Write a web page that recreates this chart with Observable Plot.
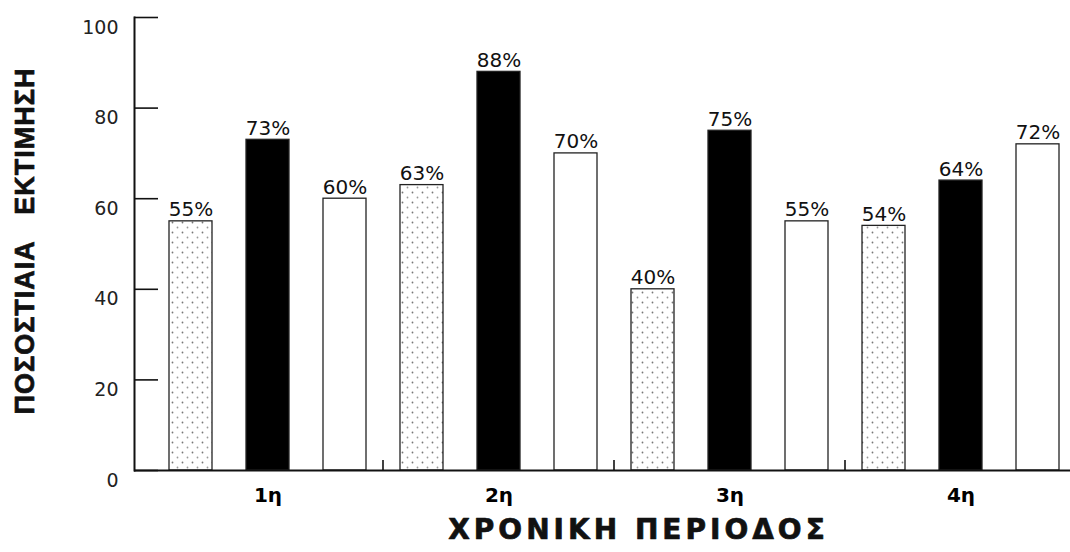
<!DOCTYPE html>
<html>
<head>
<meta charset="utf-8">
<script src="https://cdn.jsdelivr.net/npm/d3@7"></script>
<script src="https://cdn.jsdelivr.net/npm/@observablehq/plot@0.6"></script>
<style>
  html, body { margin: 0; padding: 0; background: #fff; }
  svg { font-family: "DejaVu Sans", sans-serif; }
</style>
</head>
<body>
<div id="chart"></div>
<script>
// ---- data ----
const periods = ["1η", "2η", "3η", "4η"];
const seriesNames = ["Σειρά 1", "Σειρά 2", "Σειρά 3"];
const series1 = [55, 63, 40, 54];   // dotted bars
const series2 = [73, 88, 75, 64];   // black bars
const series3 = [60, 70, 55, 72];   // white bars
const yTicks = [0, 20, 40, 60, 80, 100];
const xTitle = "ΧΡΟΝΙΚΗ ΠΕΡΙΟΔΟΣ";
const yTitle = "ΠΟΣΟΣΤΙΑΙΑ\u00A0\u00A0\u00A0ΕΚΤΙΜΗΣΗ";

// ---- table built from the arrays ----
const seriesValues = [series1, series2, series3];
const rows = [];
periods.forEach((p, i) => {
  seriesNames.forEach((s, j) => {
    rows.push({period: p, series: s, value: seriesValues[j][i], key: p + "|" + s});
  });
});
const keys = rows.map(d => d.key);
const middleKeys = periods.map(p => p + "|" + seriesNames[1]);
const boundaryKeys = periods.slice(1).map(p => p + "|" + seriesNames[0]);

const W = 1070, H = 552, ML = 134, MR = 0, MT = 17, MB = 82;
const frameW = W - ML - MR, frameH = H - MT - MB;

const chart = Plot.plot({
  width: W,
  height: H,
  marginLeft: ML,
  marginRight: MR,
  marginTop: MT,
  marginBottom: MB,
  style: {fontFamily: "'DejaVu Sans', sans-serif", color: "#000", background: "#fff"},
  x: {type: "band", domain: keys, paddingInner: 0.436, paddingOuter: 0.226, align: 0.77, axis: null},
  y: {domain: [0, 100], axis: null},
  color: {domain: seriesNames, range: ["url(#dots)", "#000", "#fff"]},
  marks: [
    Plot.barY(rows, {x: "key", y: "value", fill: "series", stroke: "#222", strokeWidth: 1.3}),
    Plot.text(rows, {x: "key", y: "value", text: d => d.value + "%", lineAnchor: "bottom", dy: -5, fontSize: 20, fill: "#111"}),
    // y axis line and inward ticks
    Plot.frame({anchor: "left", stroke: "#111", strokeWidth: 2}),
    Plot.ruleY(yTicks, {y: d => d, insetRight: frameW - 24, stroke: "#111", strokeWidth: 1.6}),
    Plot.axisY(yTicks, {tickSize: 0, tickPadding: 16, dy: 10, fontSize: 19, fill: "#222", label: null}),
    // baseline
    Plot.ruleY([0], {stroke: "#111", strokeWidth: 2}),
    // group boundary ticks
    Plot.ruleX(boundaryKeys, {x: d => d, dx: -39, insetTop: frameH - 10, stroke: "#111", strokeWidth: 1.6}),
    // period labels
    Plot.axisX(middleKeys, {tickSize: 0, tickPadding: 17, fontSize: 20, fontWeight: "bold", tickFormat: k => k.split("|")[0], label: null}),
    // axis titles
    Plot.text([xTitle], {frameAnchor: "bottom", text: d => d, textAnchor: "middle", dx: 36, dy: 68, fontSize: 28, fontWeight: "bold", fill: "#111", stroke: "#111", strokeWidth: 0.7}),
    Plot.text([yTitle], {frameAnchor: "left", text: d => d, textAnchor: "middle", rotate: -90, dx: -109, dy: -3, fontSize: 27, fontWeight: "bold", fill: "#111", stroke: "#111", strokeWidth: 0.7, fontFamily: "'Liberation Sans', Arial, sans-serif"})
  ]
});

// dotted pattern definition
const svg = d3.select(chart.tagName.toLowerCase() === "svg" ? chart : chart.querySelector("svg"));
const defs = svg.insert("defs", ":first-child");
const pat = defs.append("pattern").attr("id", "dots").attr("patternUnits", "userSpaceOnUse")
  .attr("width", 10).attr("height", 10);
pat.append("rect").attr("width", 10).attr("height", 10).attr("fill", "#fff");
pat.append("circle").attr("cx", 2.5).attr("cy", 2.5).attr("r", 0.9).attr("fill", "#777");
pat.append("circle").attr("cx", 7.5).attr("cy", 7.5).attr("r", 0.9).attr("fill", "#999");

// letter spacing for the titles
svg.selectAll("text").each(function() {
  const t = this.textContent;
  if (t === xTitle) d3.select(this).attr("letter-spacing", 4);
  if (t === yTitle) d3.select(this).attr("letter-spacing", 1);
});

document.getElementById("chart").appendChild(chart);
</script>
</body>
</html>
